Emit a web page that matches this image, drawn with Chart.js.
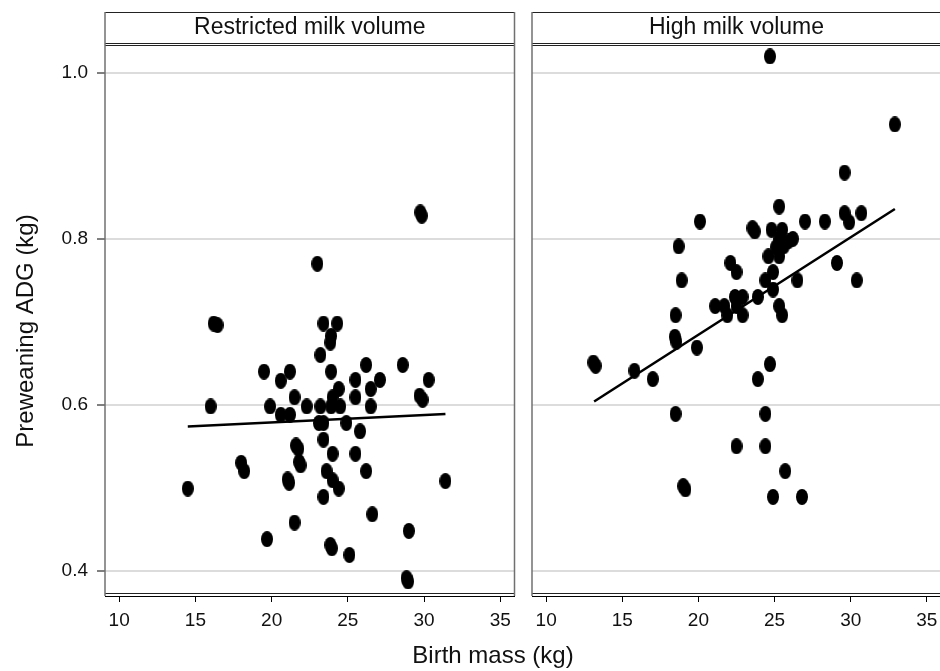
<!DOCTYPE html>
<html>
<head>
<meta charset="utf-8">
<script src="https://cdn.jsdelivr.net/npm/chart.js@4.4.1/dist/chart.umd.min.js"></script>
<style>
  html, body { margin: 0; padding: 0; background: #fff; overflow: hidden; }
  #wrap { position: relative; width: 940px; height: 671px; overflow: hidden; }
  canvas { position: absolute; top: 0; }
</style>
</head>
<body>
<div id="wrap">
  <canvas id="restrictedChart" width="940" height="671" style="left:0;width:940px;height:671px"></canvas>
  <canvas id="highChart" width="430" height="671" style="left:520px;width:430px;height:671px"></canvas>
</div>
<script>
// birth mass (kg) and preweaning ADG (kg/day) per calf
const restrictedMass = [
  23.0, 16.2, 16.45, 23.4, 24.3, 23.9, 23.85, 23.2, 19.5, 21.2,
  20.6, 23.9, 26.2, 28.6, 25.5, 27.1, 30.3, 24.4, 26.5, 25.5,
  21.5, 24.0, 29.7, 29.9, 16.0, 19.9, 22.3, 23.2, 23.9, 24.5,
  26.5, 20.6, 21.2, 23.1, 23.4, 24.9, 25.8, 23.4, 21.6, 21.75,
  24.0, 25.5, 18.0, 18.2, 21.8, 21.9, 23.6, 26.2, 21.05, 21.15,
  24.0, 24.4, 14.5, 31.4, 23.4, 26.6, 21.5, 29.0, 19.7, 23.85,
  23.95, 25.1, 28.85, 28.95, 29.75, 29.85
];
const restrictedAdg = [
  0.770, 0.698, 0.696, 0.698, 0.698, 0.683, 0.675, 0.660, 0.640, 0.640,
  0.629, 0.640, 0.648, 0.648, 0.630, 0.630, 0.630, 0.619, 0.619, 0.609,
  0.609, 0.609, 0.611, 0.606, 0.598, 0.598, 0.598, 0.598, 0.598, 0.598,
  0.598, 0.588, 0.588, 0.578, 0.578, 0.578, 0.568, 0.558, 0.551, 0.547,
  0.541, 0.541, 0.530, 0.520, 0.531, 0.527, 0.520, 0.520, 0.510, 0.506,
  0.509, 0.499, 0.499, 0.508, 0.489, 0.468, 0.458, 0.448, 0.438, 0.431,
  0.427, 0.419, 0.391, 0.387, 0.832, 0.828
];
const highMass = [
  24.7, 32.9, 29.6, 25.3, 29.6, 29.9, 30.7, 20.1, 27.0, 28.3,
  23.55, 23.7, 24.8, 25.5, 26.2, 25.6, 18.7, 22.1, 22.5, 24.6,
  25.3, 25.9, 24.9, 18.9, 24.4, 26.5, 29.1, 30.4, 24.9, 23.9,
  22.4, 22.9, 21.1, 21.7, 22.5, 21.9, 22.9, 25.3, 25.5, 18.5,
  18.45, 18.55, 19.9, 13.1, 13.25, 15.8, 17.0, 24.7, 23.9, 18.5,
  24.4, 22.5, 24.4, 25.7, 19.0, 19.15, 24.9, 26.8, 25.3, 25.1
];
const highAdg = [
  1.020, 0.938, 0.880, 0.839, 0.831, 0.820, 0.831, 0.821, 0.821, 0.821,
  0.813, 0.809, 0.811, 0.811, 0.800, 0.791, 0.791, 0.771, 0.760, 0.779,
  0.779, 0.797, 0.760, 0.750, 0.750, 0.750, 0.771, 0.750, 0.739, 0.730,
  0.730, 0.730, 0.719, 0.719, 0.719, 0.708, 0.708, 0.719, 0.708, 0.708,
  0.682, 0.676, 0.669, 0.651, 0.647, 0.641, 0.631, 0.649, 0.631, 0.589,
  0.589, 0.550, 0.550, 0.520, 0.502, 0.498, 0.489, 0.489, 0.800, 0.790
];
// fitted regression lines (end points)
const restrictedFitMass = [14.5, 31.4];
const restrictedFitAdg = [0.574, 0.589];
const highFitMass = [13.15, 32.9];
const highFitAdg = [0.604, 0.836];
const xTicks = [10, 15, 20, 25, 30, 35];
const yTicks = [0.4, 0.6, 0.8, 1.0];

const FONT = "'Liberation Sans', Arial, Helvetica, sans-serif";
Chart.defaults.font.family = FONT;
Chart.defaults.color = '#111';

const pairs = (xs, ys) => xs.map((x, i) => ({ x: x, y: ys[i] }));

// filled oval marker, a little taller than wide
function oval(w, h) {
  const c = document.createElement('canvas');
  c.width = w;
  c.height = h;
  const g = c.getContext('2d');
  g.fillStyle = '#000';
  g.beginPath();
  g.ellipse(w / 2, h / 2, w / 2, h / 2, 0, 0, Math.PI * 2);
  g.fill();
  return c;
}
const dot = oval(12, 16);

// strip header, panel box and the shared axis titles
const panelFrame = {
  id: 'panelFrame',
  afterDraw(chart, args, opts) {
    const { ctx, chartArea: a } = chart;
    const top = a.top - 33;
    ctx.save();
    ctx.lineWidth = 1;
    ctx.strokeStyle = '#222';
    [top, a.top - 2, a.top, a.bottom - 3].forEach((y) => {
      ctx.beginPath();
      ctx.moveTo(a.left, y + 0.5);
      ctx.lineTo(a.right, y + 0.5);
      ctx.stroke();
    });
    ctx.strokeStyle = '#707070';
    ctx.lineWidth = 1.5;
    [a.left, a.right].forEach((x) => {
      ctx.beginPath();
      ctx.moveTo(x, top);
      ctx.lineTo(x, a.bottom);
      ctx.stroke();
    });
    ctx.fillStyle = '#111';
    ctx.font = '23px ' + FONT;
    ctx.textAlign = 'center';
    ctx.textBaseline = 'middle';
    ctx.fillText(opts.label, (a.left + a.right) / 2, top + 16);
    if (opts.xTitle) {
      ctx.font = '24px ' + FONT;
      ctx.textBaseline = 'alphabetic';
      ctx.fillText(opts.xTitle, opts.xTitleX, opts.xTitleY);
    }
    if (opts.yTitle) {
      ctx.font = '24px ' + FONT;
      ctx.textBaseline = 'middle';
      ctx.translate(opts.yTitleX, opts.yTitleY);
      ctx.rotate(-Math.PI / 2);
      ctx.fillText(opts.yTitle, 0, 0);
    }
    ctx.restore();
  }
};

function panel(canvasId, mass, adg, fitMass, fitAdg, opts) {
  return new Chart(document.getElementById(canvasId), {
    type: 'scatter',
    data: {
      datasets: [
        {
          data: pairs(mass, adg),
          pointStyle: dot,
          pointRadius: 6,
          backgroundColor: '#000',
          borderColor: '#000',
          order: 2
        },
        {
          type: 'line',
          data: pairs(fitMass, fitAdg),
          borderColor: '#000',
          borderWidth: 2.5,
          pointRadius: 0,
          fill: false,
          order: 1
        }
      ]
    },
    options: {
      responsive: false,
      animation: false,
      events: [],
      layout: { padding: opts.padding },
      plugins: {
        legend: { display: false },
        tooltip: { enabled: false },
        panelFrame: opts.frame
      },
      scales: {
        x: {
          type: 'linear',
          min: 9.07,
          max: 35.93,
          afterFit: (s) => { s.height = 75; },
          afterBuildTicks: (s) => { s.ticks = xTicks.map((v) => ({ value: v })); },
          ticks: { padding: 7, font: { size: 19 }, color: '#111' },
          grid: { drawOnChartArea: false, tickLength: 6, tickColor: '#000', tickWidth: 1 },
          border: { display: true, color: '#000', width: 1 }
        },
        y: {
          min: 0.3695,
          max: 1.0338,
          afterFit: (s) => { s.width = opts.yWidth; },
          afterBuildTicks: (s) => { s.ticks = yTicks.map((v) => ({ value: v })); },
          ticks: {
            display: opts.showY,
            padding: 9,
            font: { size: 19 },
            color: '#111',
            callback: (v) => v.toFixed(1)
          },
          grid: {
            color: '#dcdcdc',
            lineWidth: 2,
            drawTicks: opts.showY,
            tickLength: 8,
            tickColor: '#000',
            tickWidth: 1
          },
          border: { display: false }
        }
      }
    },
    plugins: [panelFrame]
  });
}

panel('restrictedChart', restrictedMass, restrictedAdg, restrictedFitMass, restrictedFitAdg, {
  padding: { left: 0, right: 425.5, top: 45, bottom: 0 },
  yWidth: 105,
  showY: true,
  frame: {
    label: 'Restricted milk volume',
    xTitle: 'Birth mass (kg)', xTitleX: 493, xTitleY: 663,
    yTitle: 'Preweaning ADG (kg)', yTitleX: 26, yTitleY: 331
  }
});

// right panel runs a little past the page edge, as in the printed figure
panel('highChart', highMass, highAdg, highFitMass, highFitAdg, {
  padding: { left: 0, right: 9, top: 45, bottom: 0 },
  yWidth: 12,
  showY: false,
  frame: { label: 'High milk volume' }
});
</script>
</body>
</html>
